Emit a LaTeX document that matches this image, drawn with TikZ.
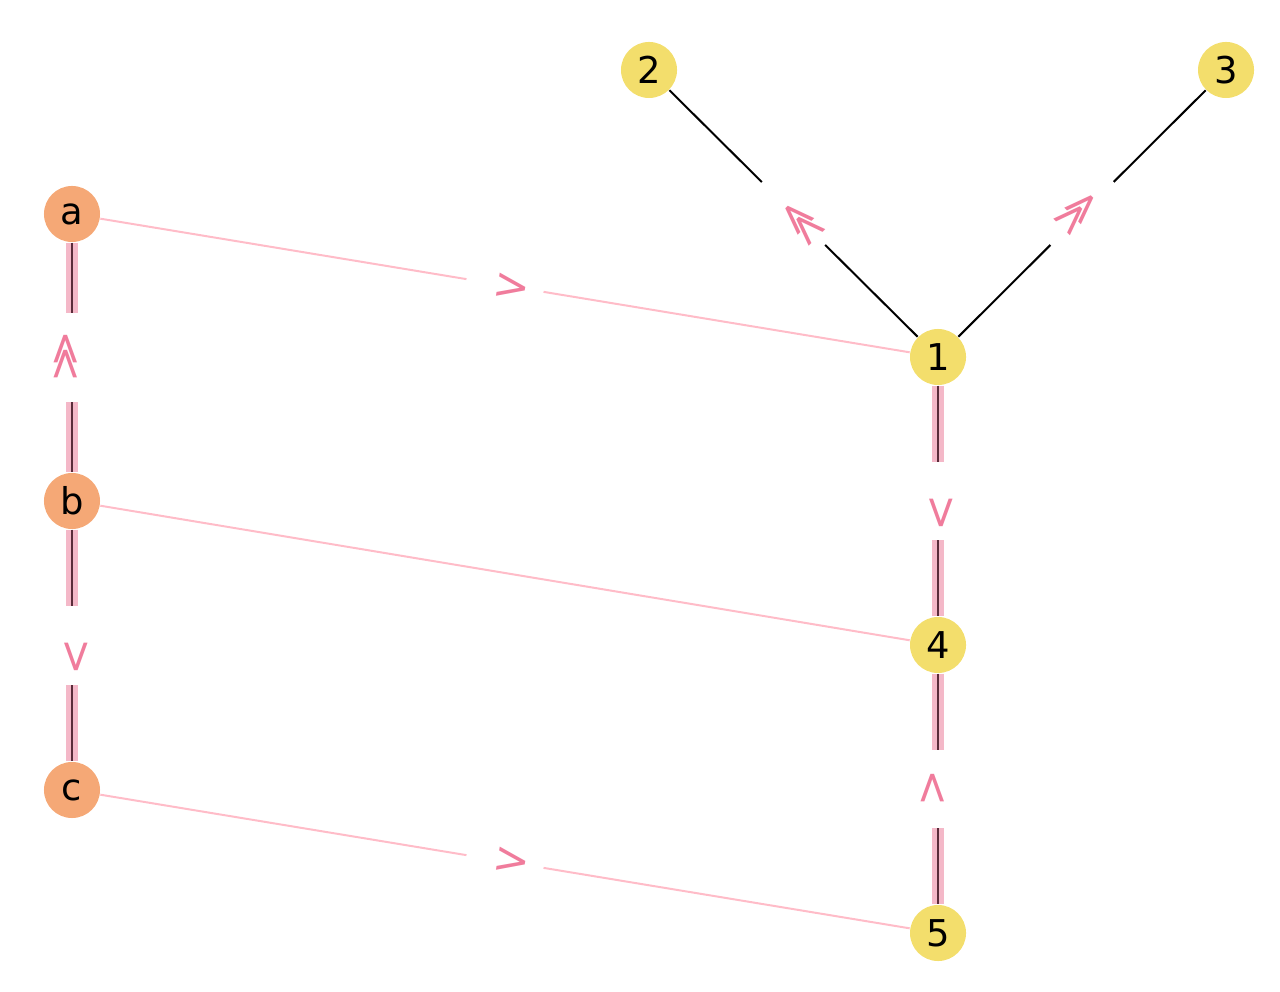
\documentclass[tikz,border=0pt]{standalone}
\usepackage{fontspec}
\setmainfont{DejaVu Sans}
\usetikzlibrary{calc}
\definecolor{ynode}{HTML}{F3DE6C}
\definecolor{onode}{HTML}{F5A876}
\definecolor{lblc}{HTML}{F07C9C}
\definecolor{pinkl}{HTML}{FFBCC8}
\definecolor{bandc}{HTML}{F4B8C8}
\definecolor{corec}{HTML}{5A2C3A}
\newcommand{\dchev}{>\kern-0.5em>}
\begin{document}
\begin{tikzpicture}[x=0.01cm,y=-0.01cm,
  gnode/.style={circle, inner sep=0pt, minimum size=0.56cm, font=\fontsize{10.5}{12}\selectfont},
  ynd/.style={gnode, fill=ynode},
  ond/.style={gnode, fill=onode},
  thinpink/.style={draw=pinkl, line width=0.02cm},
  thinblack/.style={draw=black, line width=0.02cm},
  thickedge/.style={draw=corec, line width=0.015cm, preaction={draw=bandc, line width=0.12cm}},
  gapbox/.style={fill=white, inner sep=0pt, minimum width=0.78cm, minimum height=0.3cm},
  gapboxw/.style={fill=white, inner sep=0pt, minimum width=0.89cm, minimum height=0.3cm},
  lbl/.style={text=lblc, inner sep=0pt, font=\fontsize{12.5}{14}\selectfont}
]
\useasboundingbox (0,0) rectangle (1280,992);
% nodes
\node[ynd] (n2) at (649,70) {2};
\node[ynd] (n3) at (1226,70) {3};
\node[ond] (a) at (72,214) {a};
\node[ynd] (n1) at (938,357) {1};
\node[ond] (b) at (72,501) {b};
\node[ynd] (n4) at (938,645) {4};
\node[ond] (c) at (72,790) {c};
\node[ynd] (n5) at (938,933) {5};
% edges
\draw[thinpink] (a) -- node[gapbox, rotate=-9.4] (g1) {} (n1);
\draw[thinpink] (b) -- (n4);
\draw[thinpink] (c) -- node[gapbox, rotate=-9.4] (g2) {} (n5);
\draw[thinblack] (n1) -- node[gapboxw, rotate=135] (g3) {} (n2);
\draw[thinblack] (n1) -- node[gapboxw, rotate=45] (g4) {} (n3);
\draw[thickedge] (a) -- node[gapboxw, rotate=90] (g5) {} (b);
\draw[thickedge] (b) -- node[gapbox, rotate=90] (g6) {} (c);
\draw[thickedge] (n1) -- node[gapbox, rotate=90] (g7) {} (n4);
\draw[thickedge] (n4) -- node[gapbox, rotate=90] (g8) {} (n5);
% labels
\node[lbl, rotate=-9.4] (l1) at (512,288) {>};
\node[lbl, rotate=-9.4] (l2) at (512,862) {>};
\node[lbl, rotate=135] (l3) at (803,222) {\dchev};
\node[lbl, rotate=45] (l4) at (1078,213) {\dchev};
\node[lbl, rotate=90] (l5) at (67,357) {\dchev};
\node[lbl, rotate=-90] (l6) at (75,657) {>};
\node[lbl, rotate=-90] (l7) at (940,513) {>};
\node[lbl, rotate=90] (l8) at (934,788) {>};
\end{tikzpicture}
\end{document}
